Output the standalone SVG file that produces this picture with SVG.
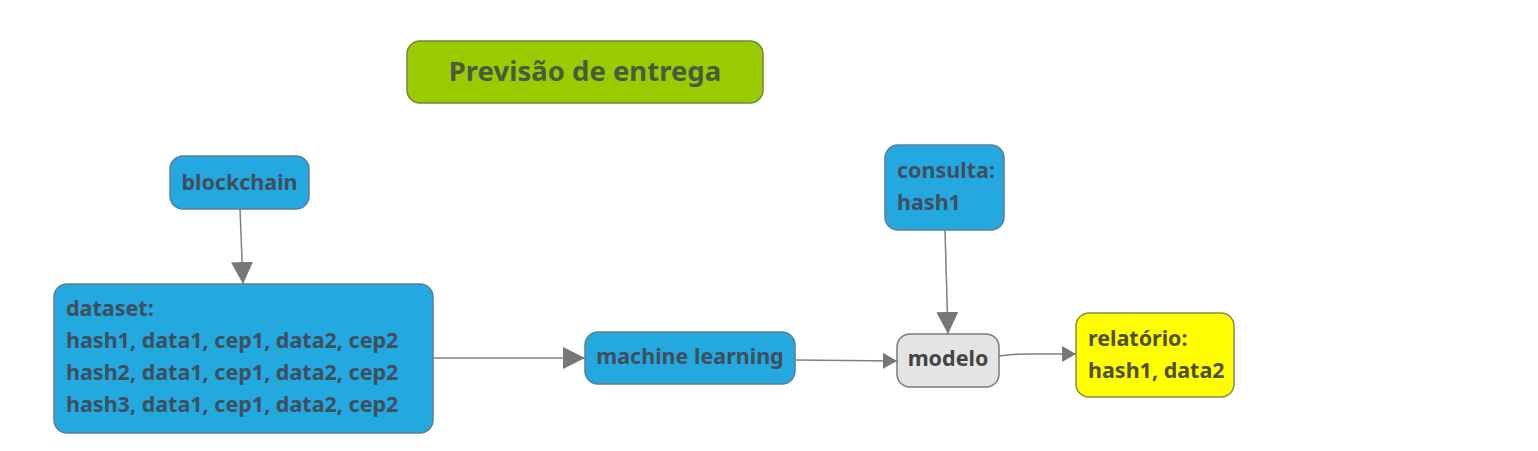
<svg xmlns="http://www.w3.org/2000/svg" width="1538" height="451" viewBox="0 0 1538 451">
<style>
.t{font-family:"Noto Sans","Open Sans","DejaVu Sans",sans-serif;font-weight:bold;font-size:21.5px;fill:#3e4f5e}
.blue{fill:#23a8e0;stroke:#5e7e94;stroke-width:1.5}
.c{stroke:#808080;stroke-width:1.5;fill:none}
</style>
<defs>
<marker id="big" markerWidth="22" markerHeight="22" refX="22" refY="11" orient="auto" markerUnits="userSpaceOnUse">
<path d="M0,0 L22,11 L0,22 z" fill="#777"/>
</marker>
<marker id="small" markerWidth="14" markerHeight="16" refX="14" refY="8" orient="auto" markerUnits="userSpaceOnUse">
<path d="M0,0 L14,8 L0,16 z" fill="#777"/>
</marker>
</defs>
<rect width="1538" height="451" fill="#ffffff"/>
<g id="connectors">
<path class="c" d="M240,209 L243,284" marker-end="url(#big)"/>
<path class="c" d="M433,358 L585,358" marker-end="url(#big)"/>
<path class="c" d="M795,360 L897,361" marker-end="url(#small)"/>
<path class="c" d="M945,230 L948,334" marker-end="url(#big)"/>
<path class="c" d="M999,356 Q1010,354 1030,354 L1076,354" marker-end="url(#small)"/>
</g>
<g id="title">
<rect x="407" y="41" width="356" height="62" rx="13" fill="#99cc00" stroke="#71883e" stroke-width="1.5"/>
<text class="t" x="585" y="81" text-anchor="middle" style="font-size:27.5px;fill:#4b5a3c">Previsão de entrega</text>
</g>
<g id="blockchain">
<rect class="blue" x="170" y="156" width="139" height="53" rx="13"/>
<text class="t" x="239.5" y="190" text-anchor="middle">blockchain</text>
</g>
<g id="dataset">
<rect class="blue" x="54" y="284" width="379" height="149" rx="13"/>
<text class="t" x="66" y="316">dataset:</text>
<text class="t" x="66" y="348">hash1, data1, cep1, data2, cep2</text>
<text class="t" x="66" y="380">hash2, data1, cep1, data2, cep2</text>
<text class="t" x="66" y="412">hash3, data1, cep1, data2, cep2</text>
</g>
<g id="machine-learning">
<rect class="blue" x="585" y="332" width="210" height="52" rx="13"/>
<text class="t" x="690" y="364" text-anchor="middle">machine learning</text>
</g>
<g id="consulta">
<rect class="blue" x="885" y="145" width="119" height="85" rx="13"/>
<text class="t" x="897" y="178">consulta:</text>
<text class="t" x="897" y="210">hash1</text>
</g>
<g id="modelo">
<rect x="897" y="334" width="102" height="53" rx="13" fill="#e4e4e4" stroke="#7a7a7a" stroke-width="1.5"/>
<text class="t" x="948" y="366" text-anchor="middle" style="fill:#444">modelo</text>
</g>
<g id="relatorio">
<rect x="1076" y="313" width="158" height="84" rx="13" fill="#ffff00" stroke="#8a8a4a" stroke-width="1.5"/>
<text class="t" x="1088" y="346" style="fill:#50502e">relatório:</text>
<text class="t" x="1088" y="378" style="fill:#50502e">hash1, data2</text>
</g>
</svg>
